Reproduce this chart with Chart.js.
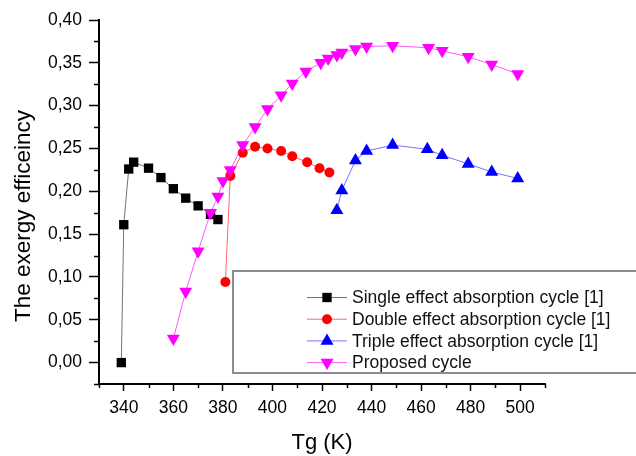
<!DOCTYPE html>
<html lang="en">

<head>
    <meta charset="UTF-8">
    <title>Exergy efficiency</title>
    <style>
        body { margin: 0; background: #fff; }
        #wrap { width: 636px; height: 456px; position: relative; }
    </style>
</head>

<body>
    <div id="wrap"><canvas id="chart"></canvas></div>

    <script src="https://cdn.jsdelivr.net/npm/chart.js@4/dist/chart.umd.min.js"></script>

    <script>
        // data
        var singleX = [339, 340, 342, 344, 350, 355, 360, 365, 370, 375, 378];
        var singleY = [0.000, 0.161, 0.226, 0.234, 0.227, 0.216, 0.203, 0.192, 0.183, 0.173, 0.167];

        var doubleX = [381, 383, 388, 393, 398, 403.5, 408, 414, 419, 423];
        var doubleY = [0.094, 0.218, 0.245, 0.252, 0.250, 0.247, 0.241, 0.234, 0.227, 0.222];

        var tripleX = [426, 428, 433.5, 438, 448.5, 462.5, 468.5, 479, 488.5, 499];
        var tripleY = [0.178, 0.201, 0.236, 0.247, 0.254, 0.249, 0.242, 0.232, 0.2225, 0.215];

        var proposedX = [360, 365, 370, 375, 378, 380, 383, 388, 393, 398, 403.5, 408, 413.5,
            419.5, 422.5, 426, 428, 433.5, 438, 448.5, 463, 468.5, 479, 488.5, 499];
        var proposedY = [0.028, 0.083, 0.130, 0.175, 0.194, 0.212, 0.225, 0.254, 0.275, 0.296, 0.312, 0.326, 0.340,
            0.350, 0.355, 0.359, 0.362, 0.366, 0.369, 0.370, 0.3675, 0.364, 0.357, 0.348, 0.337];

        var seriesNames = [
            "Single effect absorption cycle [1]",
            "Double effect absorption cycle [1]",
            "Triple effect absorption cycle [1]",
            "Proposed cycle"
        ];

        var xTicks = [340, 360, 380, 400, 420, 440, 460, 480, 500];
        var xMinor = [330, 350, 370, 390, 410, 430, 450, 470, 490, 510];
        var yTicks = [0, 0.05, 0.10, 0.15, 0.20, 0.25, 0.30, 0.35, 0.40];
        var yMinor = [-0.025, 0.025, 0.075, 0.125, 0.175, 0.225, 0.275, 0.325, 0.375];

        var FONT = "'Liberation Sans', Arial, sans-serif";

        function pts(xs, ys) {
            return xs.map(function (x, i) { return { x: x, y: ys[i] }; });
        }

        function series(i, xs, ys, color, lineColor, style, radius, rotation, order) {
            return {
                label: seriesNames[i],
                data: pts(xs, ys),
                showLine: true,
                borderColor: lineColor,
                borderWidth: 1,
                backgroundColor: color,
                pointBackgroundColor: color,
                pointBorderColor: color,
                pointBorderWidth: 0,
                pointStyle: style,
                pointRadius: radius,
                pointHoverRadius: radius,
                pointRotation: rotation,
                order: order
            };
        }

        // minor ticks, y title and the boxed legend inside the plot
        var extras = {
            id: "extras",
            afterDraw: function (chart) {
                var ctx = chart.ctx;
                var xs = chart.scales.x, ys = chart.scales.y;
                var area = chart.chartArea;

                ctx.save();
                ctx.strokeStyle = "#000";
                ctx.lineWidth = 1.5;
                ctx.beginPath();
                xMinor.forEach(function (v) {
                    var px = Math.round(xs.getPixelForValue(v)) + 0.5;
                    ctx.moveTo(px, area.bottom);
                    ctx.lineTo(px, area.bottom + 4);
                });
                yMinor.forEach(function (v) {
                    var py = Math.round(ys.getPixelForValue(v)) + 0.5;
                    ctx.moveTo(area.left, py);
                    ctx.lineTo(area.left - 5, py);
                });
                ctx.stroke();

                // y axis title
                ctx.fillStyle = "#000";
                ctx.font = "22.5px " + FONT;
                ctx.textAlign = "center";
                ctx.textBaseline = "middle";
                ctx.translate(24, 216);
                ctx.rotate(-Math.PI / 2);
                ctx.fillText("The exergy efficeincy", 0, 0);
                ctx.restore();

                // legend box
                ctx.save();
                ctx.fillStyle = "#fff";
                ctx.fillRect(233, 271, 420, 102);
                ctx.strokeStyle = "#8c8c8c";
                ctx.lineWidth = 2;
                ctx.strokeRect(233, 271, 420, 102);

                ctx.font = "17.5px " + FONT;
                ctx.textAlign = "left";
                ctx.textBaseline = "middle";
                chart.data.datasets.forEach(function (ds, i) {
                    var y = 297.5 + i * 21.7;
                    ctx.strokeStyle = ds.borderColor;
                    ctx.lineWidth = 1;
                    ctx.beginPath();
                    ctx.moveTo(307, y);
                    ctx.lineTo(347, y);
                    ctx.stroke();
                    ctx.fillStyle = ds.pointBackgroundColor;
                    ctx.strokeStyle = ds.pointBorderColor;
                    Chart.helpers.drawPoint(ctx, {
                        pointStyle: ds.pointStyle,
                        radius: ds.pointRadius,
                        rotation: ds.pointRotation,
                        borderWidth: 0
                    }, 327, y);
                    ctx.fillStyle = "#111";
                    ctx.fillText(ds.label, 352, y + 1);
                });
                ctx.restore();
            }
        };

        new Chart(document.getElementById("chart"), {
            type: "scatter",
            data: {
                datasets: [
                    series(0, singleX, singleY, "#000000", "rgba(0,0,0,0.55)", "rect", 6.6, 0, 3),
                    series(1, doubleX, doubleY, "#ff0000", "rgba(255,0,0,0.6)", "circle", 5, 0, 2),
                    series(2, tripleX, tripleY, "#0000ff", "rgba(0,0,255,0.55)", "triangle", 7.5, 0, 1),
                    series(3, proposedX, proposedY, "#ff00ff", "rgba(255,0,255,0.65)", "triangle", 7.5, 180, 0)
                ]
            },
            options: {
                responsive: true,
                maintainAspectRatio: false,
                animation: false,
                layout: { padding: { top: 20, right: 91, left: 0, bottom: 0 } },
                plugins: {
                    legend: { display: false },
                    tooltip: { enabled: false }
                },
                scales: {
                    x: {
                        type: "linear",
                        position: "bottom",
                        min: 330,
                        max: 510,
                        afterBuildTicks: function (scale) {
                            scale.ticks = xTicks.map(function (v) { return { value: v }; });
                        },
                        afterFit: function (scale) { scale.height = 72; },
                        border: { display: true, color: "#000", width: 2 },
                        grid: { drawOnChartArea: false, drawTicks: true, tickLength: 7, tickColor: "#000", tickWidth: 1.5 },
                        ticks: {
                            color: "#000",
                            font: { family: FONT, size: 17.5 },
                            padding: 7,
                            maxRotation: 0
                        },
                        title: {
                            display: true,
                            text: "Tg (K)",
                            color: "#000",
                            font: { family: FONT, size: 22 },
                            padding: { top: 0, bottom: 0 }
                        }
                    },
                    y: {
                        type: "linear",
                        min: -0.025,
                        max: 0.40,
                        afterBuildTicks: function (scale) {
                            scale.ticks = yTicks.map(function (v) { return { value: v }; });
                        },
                        afterFit: function (scale) { scale.width = 99; },
                        border: { display: true, color: "#000", width: 2 },
                        grid: { drawOnChartArea: false, drawTicks: true, tickLength: 10, tickColor: "#000", tickWidth: 1.5 },
                        ticks: {
                            color: "#000",
                            font: { family: FONT, size: 17.5 },
                            padding: 7,
                            callback: function (v) { return v.toFixed(2).replace(".", ","); }
                        }
                    }
                }
            },
            plugins: [extras]
        });
    </script>
</body>

</html>
